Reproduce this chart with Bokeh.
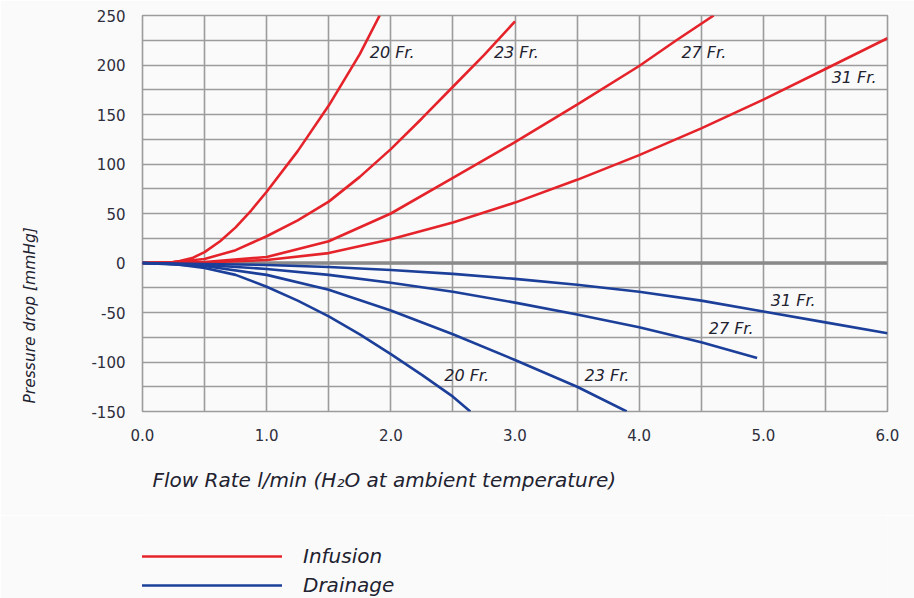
import math
from bokeh.plotting import figure
from bokeh.layouts import column
from bokeh.models import (Range1d, FixedTicker, PrintfTickFormatter, Span, Label,
                          Legend, LegendItem, Title)
from bokeh.embed import file_html
from bokeh.resources import INLINE

# ---- data ----
inf20_x = [0, 0.2, 0.3, 0.4, 0.5, 0.625, 0.75, 0.875, 1.0, 1.25, 1.5, 1.75, 1.91]
inf20_y = [0, 0, 2, 5, 11, 22, 36, 53, 72, 113, 159, 211, 250]
inf23_x = [0, 0.25, 0.5, 0.75, 1.0, 1.25, 1.5, 1.75, 2.0, 2.25, 2.5, 2.75, 3.0]
inf23_y = [0, 1, 4, 13, 27, 43, 62, 87, 115, 146, 178, 210, 244]
inf27_x = [0, 0.5, 1.0, 1.5, 2.0, 2.5, 3.0, 3.5, 4.0, 4.3, 4.6]
inf27_y = [0, 1, 6, 22, 50, 86, 122, 160, 199, 225, 250]
inf31_x = [0, 0.5, 1.0, 1.5, 2.0, 2.5, 3.0, 3.5, 4.0, 4.5, 5.0, 5.5, 6.0]
inf31_y = [0, 0.5, 3, 10, 24, 41, 61, 84, 109, 136, 165, 196, 227]

dr20_x = [0, 0.25, 0.5, 0.75, 1.0, 1.25, 1.5, 1.75, 2.0, 2.25, 2.5, 2.64]
dr20_y = [0, -1, -5, -12, -24, -38, -54, -72, -92, -113, -135, -150]
dr23_x = [0, 0.5, 1.0, 1.5, 2.0, 2.5, 3.0, 3.5, 3.9]
dr23_y = [0, -3, -12, -27, -48, -72, -98, -125, -150]
dr27_x = [0, 0.5, 1.0, 1.5, 2.0, 2.5, 3.0, 3.5, 4.0, 4.5, 4.95]
dr27_y = [0, -2, -6, -12, -20, -29, -40, -52, -65, -80, -96]
dr31_x = [0, 0.5, 1.0, 1.5, 2.0, 2.5, 3.0, 3.5, 4.0, 4.5, 5.0, 5.5, 6.0]
dr31_y = [0, -1, -2, -4, -7, -11, -16, -22, -29, -38, -49, -60, -71]

x_ticks = [0, 1, 2, 3, 4, 5, 6]
x_minor = [0.5, 1.5, 2.5, 3.5, 4.5, 5.5]
y_ticks = [-150, -100, -50, 0, 50, 100, 150, 200, 250]
y_minor = [-125, -75, -25, 25, 75, 125, 175, 225]

curve_labels = ["20 Fr.", "23 Fr.", "27 Fr.", "31 Fr.", "31 Fr.", "27 Fr.", "20 Fr.", "23 Fr."]
label_x = [1.83, 2.83, 4.34, 5.55, 5.06, 4.56, 2.43, 3.56]
label_y = [213, 213, 213, 187, -38, -66, -114, -114]

x_title = "Flow Rate l/min (H\u2082O at ambient temperature)"
y_title = "Pressure drop [mmHg]"
legend_names = ["Infusion", "Drainage"]

RED = "#e5232a"
BLUE = "#1c3f9a"
GRID = "#9c9c9c"
BG = "#fafafa"
FONT = "DejaVu Sans"
TXT = "#222230"

p = figure(width=914, height=515, output_backend="svg", toolbar_location=None,
           x_range=Range1d(0, 6), y_range=Range1d(-150, 250),
           min_border_left=142, min_border_right=27, min_border_top=15,
           min_border_bottom=104)
p.background_fill_color = BG
p.border_fill_color = BG
p.outline_line_color = GRID
p.outline_line_width = 1.6

p.xaxis.ticker = FixedTicker(ticks=x_ticks, minor_ticks=x_minor)
p.yaxis.ticker = FixedTicker(ticks=y_ticks, minor_ticks=y_minor)
p.xaxis.formatter = PrintfTickFormatter(format="%.1f")
p.yaxis.formatter = PrintfTickFormatter(format="%d")
for ax in (p.xaxis, p.yaxis):
    ax.axis_line_color = None
    ax.major_tick_line_color = None
    ax.minor_tick_line_color = None
    ax.major_tick_out = 0
    ax.minor_tick_out = 0
    ax.major_tick_in = 0
    ax.major_label_text_font = FONT
    ax.major_label_text_font_size = "15px"
    ax.major_label_text_color = "#2e2e3c"
    ax.major_label_standoff = 17

for g in (p.xgrid, p.ygrid):
    g.grid_line_color = GRID
    g.grid_line_width = 1.6
    g.minor_grid_line_color = GRID
    g.minor_grid_line_width = 1.6

p.add_layout(Span(location=0, dimension="width", line_color="#8a8a8a",
                  line_width=3.5, level="underlay"))

rin = []
for xs, ys in [(inf20_x, inf20_y), (inf23_x, inf23_y), (inf27_x, inf27_y), (inf31_x, inf31_y)]:
    rin.append(p.line(xs, ys, line_color=RED, line_width=2.6))
rdr = []
for xs, ys in [(dr20_x, dr20_y), (dr23_x, dr23_y), (dr27_x, dr27_y), (dr31_x, dr31_y)]:
    rdr.append(p.line(xs, ys, line_color=BLUE, line_width=2.6))

for t, lx, ly in zip(curve_labels, label_x, label_y):
    p.add_layout(Label(x=lx, y=ly, text=t, text_font=FONT, text_font_size="16px",
                       text_font_style="italic", text_color=TXT,
                       text_align="left", text_baseline="middle"))

p.add_layout(Title(text=x_title, align="left", offset=10, standoff=44,
                   text_font=FONT, text_font_size="20px", text_font_style="italic",
                   text_color=TXT), "below")
# two empty trailing lines keep the rotated title away from the tick labels
p.add_layout(Title(text=y_title + "\n\n", align="left", offset=8, standoff=28,
                   text_font=FONT, text_font_size="15.5px", text_font_style="italic",
                   text_color=TXT), "left")

# legend strip below the chart
q = figure(width=914, height=83, output_backend="svg", toolbar_location=None,
           x_range=Range1d(0, 1), y_range=Range1d(0, 1),
           x_axis_location=None, y_axis_location=None, min_border=0)
q.background_fill_color = BG
q.border_fill_color = BG
q.outline_line_color = None
q.grid.visible = False
# one-point placeholder lines: draw nothing themselves, only give the legend keys
k1 = q.line(x=[0], y=[0], line_color=RED, line_width=2.6)
k2 = q.line(x=[0], y=[0], line_color=BLUE, line_width=2.6)
legend = Legend(items=[LegendItem(label=legend_names[0], renderers=[k1]),
                       LegendItem(label=legend_names[1], renderers=[k2])],
                location=(-4, 1), orientation="vertical",
                glyph_width=144, glyph_height=18, label_height=18, spacing=5,
                label_standoff=21, padding=0, margin=0,
                border_line_color=None, background_fill_alpha=0,
                label_text_font=FONT, label_text_font_size="20px",
                label_text_font_style="italic", label_text_color=TXT)
q.add_layout(legend)

open("out.html", "w").write(file_html(column(p, q, spacing=0), INLINE))
